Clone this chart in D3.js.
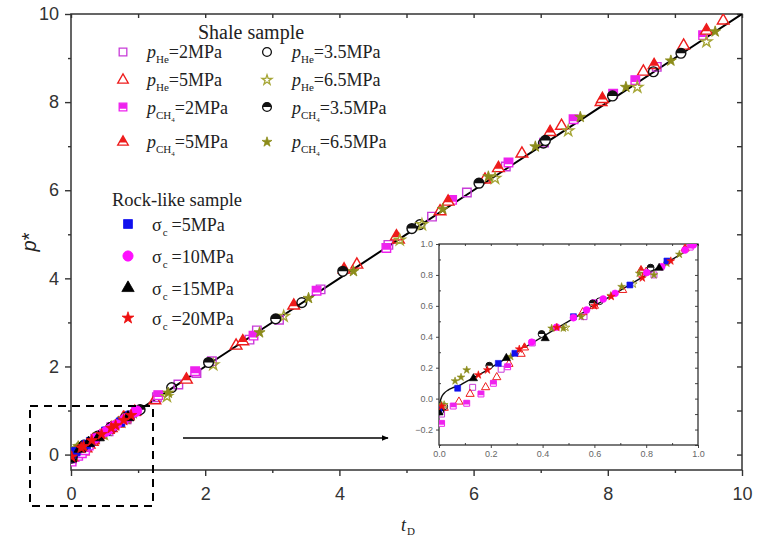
<!DOCTYPE html>
<html><head><meta charset="utf-8">
<script src="https://cdn.jsdelivr.net/npm/d3@7"></script>
<style>body{margin:0;background:#fff}</style>
</head><body>
<svg id="c" width="758" height="538"></svg>
<script>
// ---- axis ticks ----
const xMajor = [0, 2, 4, 6, 8, 10];
const xMinor = [1, 3, 5, 7, 9];
const yMajor = [0, 2, 4, 6, 8, 10];
const yMinor = [1, 3, 5, 7, 9];
const insetXMajor = [0, 0.2, 0.4, 0.6, 0.8, 1.0];
const insetYMajor = [-0.2, 0, 0.2, 0.4, 0.6, 0.8, 1.0];
const insetMinor = [-0.3, -0.1, 0.1, 0.3, 0.5, 0.7, 0.9];

// ---- fitted curve p* vs tD ----
const fitT = [0, 0.005, 0.01, 0.02, 0.035, 0.05, 0.075, 0.1, 0.15, 0.2, 0.3, 0.5, 1, 2, 4, 6, 8, 10];
const fitP = [-0.06, -0.015, 0.01, 0.035, 0.055, 0.068, 0.082, 0.105, 0.15, 0.2, 0.3, 0.5, 1, 2, 4, 6, 8, 10];

// ---- shale sample ----
const he2T = [0.01, 0.13, 0.24, 0.36, 0.56, 0.83, 1.28, 1.6, 1.87, 2.1, 2.66, 2.77, 3.1, 3.72, 4.73, 5.38, 5.9, 6.48, 7.05, 8.73];
const he2P = [-0.1, 0.073, 0.19, 0.36, 0.53, 0.8, 1.3, 1.59, 1.85, 2.12, 2.61, 2.82, 3.06, 3.75, 4.76, 5.4, 5.95, 6.54, 7.08, 8.8];
const he5T = [0.02, 0.077, 0.12, 0.18, 0.223, 0.27, 0.317, 0.555, 0.709, 0.8, 1.25, 2.46, 4.26, 4.88, 5.5, 6.17, 6.72, 7.31, 7.9, 8.53, 9.13, 9.72];
const he5P = [-0.06, -0.02, 0.03, 0.073, 0.138, 0.224, 0.289, 0.558, 0.702, 0.82, 1.23, 2.47, 4.31, 4.88, 5.52, 6.24, 6.83, 7.46, 8.0, 8.69, 9.28, 9.85];
const ch2T = [0.01, 0.055, 0.107, 0.162, 0.21, 0.265, 0.6, 0.97, 1.3, 1.85, 2.72, 3.66, 4.7, 5.68, 6.52, 7.49, 8.08, 8.41, 9.42];
const ch2P = [-0.16, -0.048, -0.03, 0.03, 0.099, 0.206, 0.62, 0.98, 1.35, 1.89, 2.7, 3.72, 4.69, 5.78, 6.63, 7.61, 8.19, 8.5, 9.52];
const ch5T = [0.01, 0.33, 0.6, 0.78, 0.95, 1.72, 2.56, 3.32, 4.07, 4.85, 5.62, 6.37, 7.14, 7.92, 8.69, 9.47];
const ch5P = [-0.06, 0.33, 0.6, 0.83, 0.97, 1.7, 2.57, 3.38, 4.2, 4.95, 5.74, 6.5, 7.32, 8.07, 8.84, 9.62];
const he35T = [0.02, 0.62, 1.5, 3.44, 5.2, 7.04, 8.68];
const he35P = [-0.05, 0.63, 1.52, 3.45, 5.22, 7.07, 8.69];
const he65T = [0.02, 0.49, 0.75, 1.43, 2.12, 3.17, 4.9, 5.23, 6.32, 7.41, 8.44, 9.47];
const he65P = [-0.04, 0.46, 0.74, 1.32, 2.04, 3.14, 4.87, 5.22, 6.27, 7.35, 8.34, 9.37];
const ch35T = [0.005, 0.194, 0.396, 0.593, 0.817, 1.03, 2.05, 3.05, 4.05, 5.08, 6.08, 7.07, 8.07, 9.09];
const ch35P = [-0.08, 0.213, 0.418, 0.616, 0.847, 1.02, 2.09, 3.08, 4.16, 5.13, 6.16, 7.13, 8.14, 9.11];
const ch65T = [0.01, 0.062, 0.085, 0.107, 0.277, 0.435, 0.48, 0.549, 0.663, 0.705, 0.773, 0.83, 0.88, 0.928, 1.45, 2.81, 3.54, 4.21, 5.54, 6.22, 6.92, 7.59, 8.27, 8.94, 9.6];
const ch65P = [-0.04, 0.114, 0.138, 0.185, 0.271, 0.455, 0.455, 0.53, 0.666, 0.724, 0.81, 0.8, 0.875, 0.933, 1.4, 2.77, 3.55, 4.16, 5.57, 6.31, 6.99, 7.66, 8.34, 8.94, 9.6];

// ---- rock-like sample ----
const s5T = [0.0, 0.072, 0.229, 0.293, 0.519, 0.737, 0.88];
const s5P = [-0.07, 0.067, 0.228, 0.293, 0.53, 0.735, 0.89];
const s10T = [0.358, 0.454, 0.519, 0.57, 0.634, 0.68, 0.802, 0.86, 0.95, 0.982];
const s10P = [0.365, 0.462, 0.523, 0.573, 0.644, 0.681, 0.815, 0.853, 0.961, 0.994];
const s15T = [0.0, 0.133, 0.26, 0.41, 0.85];
const s15P = [-0.09, 0.131, 0.262, 0.39, 0.845];
const s20T = [0.01, 0.152, 0.187, 0.31, 0.455, 0.6, 0.665, 0.785, 0.895];
const s20P = [-0.05, 0.153, 0.185, 0.32, 0.46, 0.6, 0.66, 0.78, 0.89];

const zip = (t, p) => t.map((v, i) => ({t: v, p: p[i]}));

const SQ = d3.symbolSquare, TR = d3.symbolTriangle, CI = d3.symbolCircle, ST = d3.symbolStar;
const MAG = "#ee22ee", MAG_OPEN = "#c83cd8", RED = "#ee1c1c", OLIVE = "#8c8c1a", OLIVE_OPEN = "#a6a636";

const series = [
  {id: "he2",  data: zip(he2T, he2P),   type: SQ, size: 72, color: MAG_OPEN, mode: "open",  sub: "He", val: "=2MPa"},
  {id: "he5",  data: zip(he5T, he5P),   type: TR, size: 60, color: RED,      mode: "open",  sub: "He", val: "=5MPa"},
  {id: "ch2",  data: zip(ch2T, ch2P),   type: SQ, size: 72, color: MAG,      mode: "half",  sub: "CH", val: "=2MPa"},
  {id: "ch5",  data: zip(ch5T, ch5P),   type: TR, size: 60, color: RED,      mode: "half",  sub: "CH", val: "=5MPa"},
  {id: "he35", data: zip(he35T, he35P), type: CI, size: 75, color: "#111",   mode: "open",  sub: "He", val: "=3.5MPa"},
  {id: "he65", data: zip(he65T, he65P), type: ST, size: 38, color: OLIVE_OPEN, mode: "open", sub: "He", val: "=6.5MPa"},
  {id: "ch35", data: zip(ch35T, ch35P), type: CI, size: 75, color: "#111",   mode: "half",  sub: "CH", val: "=3.5MPa"},
  {id: "ch65", data: zip(ch65T, ch65P), type: ST, size: 38, color: OLIVE,    mode: "solid", sub: "CH", val: "=6.5MPa"},
  {id: "s5",   data: zip(s5T, s5P),     type: SQ, size: 72, color: "#1010ee", mode: "solid", val: "=5MPa"},
  {id: "s10",  data: zip(s10T, s10P),   type: CI, size: 75, color: "#ff10ff", mode: "solid", val: "=10MPa"},
  {id: "s15",  data: zip(s15T, s15P),   type: TR, size: 60, color: "#000",    mode: "solid", val: "=15MPa"},
  {id: "s20",  data: zip(s20T, s20P),   type: ST, size: 40, color: "#ee1010", mode: "solid", val: "=20MPa"}
];

const svg = d3.select("#c");
const defs = svg.append("defs");
// upper-part clips used for the half-filled markers
defs.append("clipPath").attr("id", "upperHalf").attr("clipPathUnits", "objectBoundingBox")
  .append("rect").attr("x", -0.1).attr("y", -0.1).attr("width", 1.2).attr("height", 0.6);
defs.append("clipPath").attr("id", "upperMost").attr("clipPathUnits", "objectBoundingBox")
  .append("rect").attr("x", -0.1).attr("y", -0.1).attr("width", 1.2).attr("height", 0.82);
defs.append("clipPath").attr("id", "mainClip")
  .append("rect").attr("x", 71).attr("y", 14).attr("width", 671).attr("height", 456);
defs.append("clipPath").attr("id", "insetClip")
  .append("rect").attr("x", 439).attr("y", 244).attr("width", 259).attr("height", 201);
defs.append("marker").attr("id", "arrowHead").attr("viewBox", "0 0 10 10")
  .attr("refX", 9).attr("refY", 5).attr("markerWidth", 7).attr("markerHeight", 7)
  .attr("markerUnits", "userSpaceOnUse").attr("orient", "auto")
  .append("path").attr("d", "M0,1 L10,5 L0,9 Z").attr("fill", "#000");

function drawMarker(g, s, cx, cy, scale, sw) {
  const d = d3.symbol().type(s.type).size(s.size * scale * scale)();
  const tr = `translate(${cx},${cy})`;
  if (s.mode === "open") {
    g.append("path").attr("d", d).attr("transform", tr)
      .attr("fill", "none").attr("stroke", s.color).attr("stroke-width", sw);
  } else if (s.mode === "solid") {
    g.append("path").attr("d", d).attr("transform", tr)
      .attr("fill", s.color).attr("stroke", s.color).attr("stroke-width", sw * 0.6);
  } else {
    const clip = s.type === CI ? "upperHalf" : "upperMost";
    g.append("path").attr("d", d).attr("transform", tr).attr("fill", "#fff");
    g.append("path").attr("d", d).attr("transform", tr)
      .attr("fill", s.color).attr("clip-path", `url(#${clip})`);
    g.append("path").attr("d", d).attr("transform", tr)
      .attr("fill", "none").attr("stroke", s.color).attr("stroke-width", sw);
  }
}

// ===== main plot =====
const x = d3.scaleLinear().domain([0, 10]).range([71, 742]);
const y = d3.scaleLinear().domain([-0.35, 10]).range([470, 14]);
const AX = "#333";
const TICKFONT = "'Liberation Sans', Arial, sans-serif";

function styleAxis(g) {
  g.select(".domain").remove();
  g.selectAll(".tick line").attr("stroke", AX).attr("stroke-width", 1.4);
  g.selectAll(".tick text").attr("fill", AX).attr("font-family", TICKFONT).attr("font-size", 18);
}

svg.append("g").attr("transform", "translate(0,470)")
  .call(d3.axisBottom(x).tickValues(xMajor).tickSize(6).tickPadding(11).tickFormat(d3.format("d"))).call(styleAxis);
svg.append("g").attr("transform", "translate(0,470)")
  .call(d3.axisBottom(x).tickValues(xMinor).tickSize(3).tickFormat("")).call(styleAxis);
svg.append("g").attr("transform", "translate(71,0)")
  .call(d3.axisLeft(y).tickValues(yMajor).tickSize(6).tickPadding(6).tickFormat(d3.format("d"))).call(styleAxis);
svg.append("g").attr("transform", "translate(71,0)")
  .call(d3.axisLeft(y).tickValues(yMinor).tickSize(3).tickFormat("")).call(styleAxis);
svg.append("g").attr("transform", "translate(0,14)")
  .call(d3.axisTop(x).tickValues(xMajor.concat(xMinor)).tickSize(-4).tickFormat("")).call(styleAxis);
svg.append("g").attr("transform", "translate(742,0)")
  .call(d3.axisRight(y).tickValues(yMajor.concat(yMinor)).tickSize(-5).tickFormat("")).call(styleAxis);
svg.append("rect").attr("x", 71).attr("y", 14).attr("width", 671).attr("height", 456)
  .attr("fill", "none").attr("stroke", AX).attr("stroke-width", 1.5);

// axis titles
svg.append("text").attr("transform", "translate(36,242) rotate(-90)").attr("text-anchor", "middle")
  .attr("font-family", TICKFONT).attr("font-size", 20).attr("fill", "#222")
  .call(t => { t.append("tspan").attr("font-style", "italic").text("p"); t.append("tspan").text("*"); });
svg.append("text").attr("x", 401).attr("y", 531).attr("font-family", "'Liberation Serif', 'Times New Roman', serif")
  .attr("fill", "#222")
  .call(t => {
    t.append("tspan").attr("font-style", "italic").attr("font-size", 18).text("t");
    t.append("tspan").attr("font-size", 11).attr("dy", 4).attr("dx", 1).text("D");
  });

const line = d3.line().curve(d3.curveMonotoneX);
const fitData = zip(fitT, fitP);
const mainG = svg.append("g").attr("clip-path", "url(#mainClip)");
mainG.append("path").attr("d", line(fitData.map(d => [x(d.t), y(d.p)])))
  .attr("fill", "none").attr("stroke", "#000").attr("stroke-width", 2);
series.forEach(s => {
  const g = mainG.append("g");
  s.data.forEach(d => drawMarker(g, s, x(d.t), y(d.p), 1, 1.4));
});

// ===== legend =====
const SERIF = "'Liberation Serif', 'Times New Roman', serif";
svg.append("text").attr("x", 198).attr("y", 39).attr("font-family", SERIF).attr("font-size", 20)
  .attr("fill", "#222").text("Shale sample");
const shalePos = [[123, 52, 147, 58], [123, 80, 147, 86], [123, 107, 147, 114], [123, 142, 147, 148],
                  [267, 52, 292, 58], [267, 80, 292, 86], [267, 107, 292, 114], [267, 142, 292, 148]];
series.slice(0, 8).forEach((s, i) => {
  const [sx, sy, tx, ty] = shalePos[i];
  drawMarker(svg.append("g"), s, sx, sy, 0.9, 1.3);
  const t = svg.append("text").attr("x", tx).attr("y", ty).attr("font-family", SERIF)
    .attr("font-size", 18).attr("fill", "#222");
  t.append("tspan").attr("font-style", "italic").text("p");
  t.append("tspan").attr("font-size", 11).attr("dy", 5).text(s.sub);
  if (s.sub === "CH") {
    t.append("tspan").attr("font-size", 7).attr("dy", 3).text("4");
    t.append("tspan").attr("dy", -8).text(s.val);
  } else {
    t.append("tspan").attr("dy", -5).text(s.val);
  }
});

svg.append("text").attr("x", 112).attr("y", 206).attr("font-family", SERIF).attr("font-size", 18.5)
  .attr("fill", "#222").text("Rock-like sample");
const rockY = [224, 256, 288, 318];
series.slice(8).forEach((s, i) => {
  drawMarker(svg.append("g"), s, 128, rockY[i], 1.05, 1.3);
  const t = svg.append("text").attr("x", 152).attr("y", rockY[i] + 7).attr("font-family", SERIF)
    .attr("font-size", 18).attr("fill", "#222");
  t.append("tspan").text("σ");
  t.append("tspan").attr("font-size", 11).attr("dy", 5).attr("dx", 1).text("c");
  t.append("tspan").attr("dy", -5).attr("dx", 4).text(s.val);
});

// ===== zoom-region marker and arrow =====
svg.append("rect").attr("x", 30).attr("y", 406).attr("width", 123).attr("height", 100)
  .attr("fill", "none").attr("stroke", "#000").attr("stroke-width", 2).attr("stroke-dasharray", "8,6");
svg.append("line").attr("x1", 183).attr("y1", 438).attr("x2", 388).attr("y2", 438)
  .attr("stroke", "#000").attr("stroke-width", 1.5).attr("marker-end", "url(#arrowHead)");

// ===== inset =====
const x2 = d3.scaleLinear().domain([0, 1]).range([439, 698]);
const y2 = d3.scaleLinear().domain([-0.3, 1.0]).range([445, 244]);
svg.append("rect").attr("x", 439).attr("y", 244).attr("width", 259).attr("height", 201).attr("fill", "#fff");

function styleInset(g) {
  g.select(".domain").remove();
  g.selectAll(".tick line").attr("stroke", "#444").attr("stroke-width", 1);
  g.selectAll(".tick text").attr("fill", "#666").attr("font-family", TICKFONT).attr("font-size", 9);
}
const f1 = d3.format(".1f");
const insetXMinor = insetMinor.filter(v => v > 0);
svg.append("g").attr("transform", "translate(0,445)")
  .call(d3.axisBottom(x2).tickValues(insetXMajor).tickSize(3).tickPadding(3).tickFormat(f1)).call(styleInset);
svg.append("g").attr("transform", "translate(0,445)")
  .call(d3.axisBottom(x2).tickValues(insetXMinor).tickSize(-2).tickFormat("")).call(styleInset);
svg.append("g").attr("transform", "translate(439,0)")
  .call(d3.axisLeft(y2).tickValues(insetYMajor).tickSize(3).tickPadding(3).tickFormat(f1)).call(styleInset);
svg.append("g").attr("transform", "translate(439,0)")
  .call(d3.axisLeft(y2).tickValues(insetMinor).tickSize(-2).tickFormat("")).call(styleInset);
svg.append("g").attr("transform", "translate(0,244)")
  .call(d3.axisTop(x2).tickValues(insetXMajor.concat(insetXMinor)).tickSize(-2).tickFormat("")).call(styleInset);
svg.append("g").attr("transform", "translate(698,0)")
  .call(d3.axisRight(y2).tickValues(insetYMajor.concat(insetMinor)).tickSize(-3).tickFormat("")).call(styleInset);
svg.append("rect").attr("x", 439).attr("y", 244).attr("width", 259).attr("height", 201)
  .attr("fill", "none").attr("stroke", "#333").attr("stroke-width", 1.3);

const insetG = svg.append("g").attr("clip-path", "url(#insetClip)");
insetG.append("path").attr("d", line(fitData.filter(d => d.t <= 1).map(d => [x2(d.t), y2(d.p)])))
  .attr("fill", "none").attr("stroke", "#111").attr("stroke-width", 1.4);
series.forEach(s => {
  const g = insetG.append("g");
  s.data.filter(d => d.t <= 1).forEach(d => drawMarker(g, s, x2(d.t), y2(d.p), 0.7, 1));
});
</script>
</body></html>
